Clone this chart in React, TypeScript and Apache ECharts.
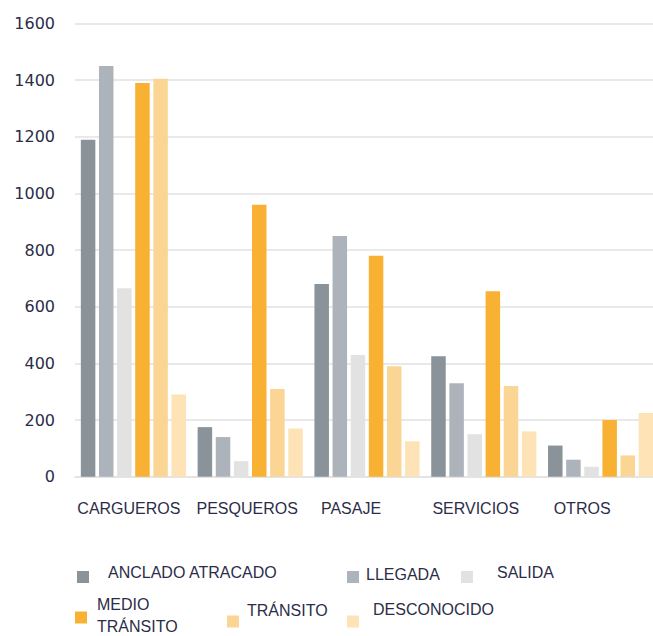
import React, { useEffect, useRef } from "react";
import * as echarts from "echarts";

const categories = ["CARGUEROS", "PESQUEROS", "PASAJE", "SERVICIOS", "OTROS"];
const seriesNames = ["ANCLADO ATRACADO", "LLEGADA", "SALIDA", "MEDIO\nTRÁNSITO", "TRÁNSITO", "DESCONOCIDO"];
const anclado = [1190, 175, 680, 425, 110];
const llegada = [1450, 140, 850, 330, 60];
const salida = [665, 55, 430, 150, 35];
const medio = [1390, 960, 780, 655, 200];
const transito = [1405, 310, 390, 320, 75];
const desconocido = [290, 170, 125, 160, 225];
const yTicks = { min: 0, max: 1600, interval: 200 };

const colors = ["#8a9399", "#adb3ba", "#e2e2e2", "#f8b133", "#fbd594", "#fde3b5"];
const labelPads = [9, 6, 32, 16, 37];
const legendPos = [
  { left: 77, top: 564.5, shift: 9, padL: 14, lh: 18 },
  { left: 347, top: 566, shift: 6, padL: 2, lh: 18 },
  { left: 461, top: 564.5, shift: 9, padL: 19, lh: 18 },
  { left: 75, top: 596.5, shift: 4, padL: 5, lh: 22 },
  { left: 227, top: 602.5, shift: 22, padL: 3, lh: 18 },
  { left: 347, top: 601.5, shift: 24, padL: 9, lh: 18 },
];

export default function App() {
  const ref = useRef<HTMLDivElement>(null);
  useEffect(() => {
    if (!ref.current) return;
    const chart = echarts.init(ref.current, null, { renderer: "svg" });
    const values = [anclado, llegada, salida, medio, transito, desconocido];
    const textColor = "#2b2d48";
    const rich: Record<string, any> = {};
    labelPads.forEach((p, i) => {
      rich["c" + i] = { padding: [0, p, 0, 0], fontFamily: "Liberation Sans", fontSize: 16, color: textColor };
    });
    chart.setOption({
      animation: false,
      backgroundColor: "#ffffff",
      grid: {
        left: 75,
        width: 584,
        top: 23.5,
        bottom: 159.3,
        containLabel: false,
        outerBoundsMode: "none",
      },
      legend: seriesNames.map((n, i) => {
        const lp = legendPos[i];
        return {
          data: [n],
          left: lp.left,
          top: lp.top,
          orient: "horizontal",
          icon: "rect",
          itemWidth: 12,
          itemHeight: 12,
          padding: 0,
          selectedMode: false,
          formatter: (name: string) =>
            name
              .split("\n")
              .map((l) => `{t|${l}}`)
              .join("\n") + "\n{s| }",
          textStyle: {
            fontFamily: "Liberation Sans",
            fontSize: 16,
            color: textColor,
            padding: [0, 0, 0, lp.padL],
            rich: {
              t: { fontFamily: "Liberation Sans", fontSize: 16, color: textColor, lineHeight: lp.lh },
              s: { fontSize: 1, lineHeight: lp.shift },
            },
          },
        };
      }),
      xAxis: {
        type: "category",
        data: categories,
        axisTick: { show: false },
        axisLine: { lineStyle: { color: "#e2e2e2", width: 1.5 } },
        axisLabel: {
          margin: 24,
          interval: 0,
          formatter: (v: string, i: number) => `{c${i}|${v}}`,
          rich,
        },
      },
      yAxis: {
        type: "value",
        min: yTicks.min,
        max: yTicks.max,
        interval: yTicks.interval,
        axisLine: { show: false },
        axisTick: { show: false },
        splitLine: { lineStyle: { color: "#e2e2e2", width: 1.5 } },
        axisLabel: {
          margin: 20,
          fontFamily: "DejaVu Sans",
          fontSize: 16,
          color: textColor,
          formatter: (v: number) => String(v),
        },
      },
      series: seriesNames.map((n, i) => ({
        name: n,
        type: "bar",
        data: values[i],
        barWidth: 14.5,
        barGap: "25%",
        itemStyle: { color: colors[i] },
      })),
    });
    return () => chart.dispose();
  }, []);
  return (
    <div
      ref={ref}
      style={{ position: "absolute", left: 0, top: 0, width: 653, height: 636, overflow: "hidden" }}
    />
  );
}
